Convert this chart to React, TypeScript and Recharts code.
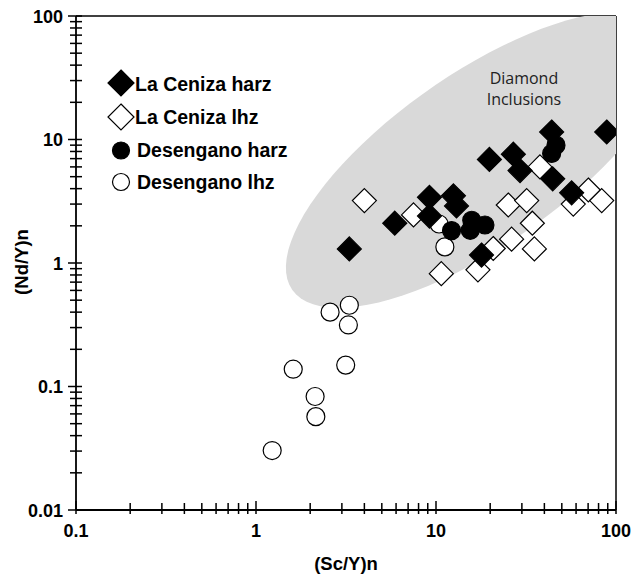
import React from "react";
import { ScatterChart, Scatter, XAxis, YAxis, Customized } from "recharts";

// [Sc/Y n, Nd/Y n]
const laCenizaHarz = [
  [3.3, 1.3], [5.9, 2.1], [9.2, 3.4], [9.2, 2.4], [12.5, 3.5], [13, 2.9],
  [19.8, 6.9], [26.9, 7.6], [29.3, 5.6], [43.9, 11.5], [44.5, 4.8],
  [56.7, 3.7], [88.8, 11.5], [17.9, 1.16]
];
const laCenizaLhz = [
  [4.0, 3.2], [7.5, 2.45], [10.7, 0.82], [17.1, 0.88], [20.8, 1.31],
  [25.2, 2.95], [31.9, 3.2], [34.3, 2.1], [26.3, 1.56], [35.2, 1.3],
  [37.8, 6.0], [57.9, 3.0], [70.2, 3.9], [83.3, 3.2]
];
const desenganoHarz = [
  [12.2, 1.83], [15.8, 2.22], [15.5, 1.84], [18.7, 2.03], [46.4, 9.0], [43.9, 7.7]
];
const desenganoLhz = [
  [2.58, 0.4], [3.3, 0.455], [3.26, 0.315], [1.61, 0.138], [3.15, 0.149],
  [2.13, 0.083], [2.15, 0.057], [1.23, 0.0303], [11.2, 1.35], [10.4, 2.07]
];

const xTicks = [
  0.1, 0.2, 0.3, 0.4, 0.5, 0.6, 0.7, 0.8, 0.9,
  1, 2, 3, 4, 5, 6, 7, 8, 9,
  10, 20, 30, 40, 50, 60, 70, 80, 90, 100
];
const xMajor = [0.1, 1, 10, 100];
const yTicks = [
  0.01, 0.02, 0.03, 0.04, 0.05, 0.06, 0.07, 0.08, 0.09,
  0.1, 0.2, 0.3, 0.4, 0.5, 0.6, 0.7, 0.8, 0.9,
  1, 2, 3, 4, 5, 6, 7, 8, 9,
  10, 20, 30, 40, 50, 60, 70, 80, 90, 100
];
const yMajor = [0.01, 0.1, 1, 10, 100];

const legendLabels = ["La Ceniza harz", "La Ceniza lhz", "Desengano harz", "Desengano lhz"];
const fieldLabel = ["Diamond", "Inclusions"];
const fieldLabelAt = [{ x: 30.8, y: 28 }];

// diamond inclusion field: ellipse in log-log space (axes in decades)
const fieldCenter = [17.17, 6.83];
const fieldMajor = [1.033, 1.053];
const fieldMinor = [0.274, -0.57];

const FONT = "'Liberation Sans', Arial, Helvetica, sans-serif";

const toPoints = (rows: number[][]) => rows.map(([x, y]) => ({ x, y }));

const fieldOutline = (() => {
  const pts: { x: number; y: number }[] = [];
  const u0 = Math.log10(fieldCenter[0]);
  const v0 = Math.log10(fieldCenter[1]);
  for (let i = 0; i <= 90; i++) {
    const t = (i / 90) * Math.PI * 2;
    const u = u0 + Math.cos(t) * fieldMajor[0] + Math.sin(t) * fieldMinor[0];
    const v = v0 + Math.cos(t) * fieldMajor[1] + Math.sin(t) * fieldMinor[1];
    pts.push({ x: Math.pow(10, u), y: Math.pow(10, v) });
  }
  return pts;
})();

const Diamond = ({ cx, cy, fill }: any) => (
  <polygon
    points={`${cx},${cy - 12} ${cx + 12},${cy} ${cx},${cy + 12} ${cx - 12},${cy}`}
    fill={fill}
    stroke="#000"
    strokeWidth={1.2}
  />
);

const Dot = ({ cx, cy, fill }: any) => (
  <circle cx={cx} cy={cy} r={9} fill={fill} stroke="#000" strokeWidth={1.2} />
);

const FieldLabel = ({ cx, cy }: any) => (
  <g>
    {fieldLabel.map((t, i) => (
      <text
        key={t}
        x={cx}
        y={cy + i * 21}
        textAnchor="middle"
        fontFamily="'Open Sans', sans-serif"
        fontSize={16}
        fill="#222"
      >
        {t}
      </text>
    ))}
  </g>
);

const XTick = (props: any) => {
  const { x, y, payload } = props;
  const major = xMajor.includes(payload.value);
  return (
    <g>
      <line x1={x} x2={x} y1={y - (major ? 9 : 7)} y2={y + 4} stroke="#000" strokeWidth={1.5} />
      {major && (
        <text x={x} y={y + 27} textAnchor="middle" fontFamily={FONT} fontWeight="bold" fontSize={18} fill="#000">
          {String(payload.value)}
        </text>
      )}
    </g>
  );
};

const YTick = (props: any) => {
  const { x, y, payload } = props;
  const major = yMajor.includes(payload.value);
  return (
    <g>
      <line x1={x - (major ? 8 : 6)} x2={x + 6} y1={y} y2={y} stroke="#000" strokeWidth={1.5} />
      {major && (
        <text x={x - 13} y={y + 6.5} textAnchor="end" fontFamily={FONT} fontWeight="bold" fontSize={18} fill="#000">
          {String(payload.value)}
        </text>
      )}
    </g>
  );
};

const Overlay = () => {
  const rows = [
    { y: 90.7, cy: 83, shape: "diamond", fill: "#000" },
    { y: 124, cy: 117, shape: "diamond", fill: "#fff" },
    { y: 157.3, cy: 150.5, shape: "circle", fill: "#000" },
    { y: 188.5, cy: 182, shape: "circle", fill: "#fff" }
  ];
  return (
    <g>
      {rows.map((r, i) => (
        <g key={i}>
          {r.shape === "diamond" ? (
            <polygon
              points={`121,${r.cy - 13} 134,${r.cy} 121,${r.cy + 13} 108,${r.cy}`}
              fill={r.fill}
              stroke="#000"
              strokeWidth={1.2}
            />
          ) : (
            <circle cx={121} cy={r.cy} r={8.5} fill={r.fill} stroke="#000" strokeWidth={1.2} />
          )}
          <text x={r.shape === "diamond" ? 135 : 137} y={r.y} fontFamily={FONT} fontWeight="bold" fontSize={19.5} fill="#000">
            {legendLabels[i]}
          </text>
        </g>
      ))}
      <text x={346} y={570} textAnchor="middle" fontFamily={FONT} fontWeight="bold" fontSize={18.5} fill="#000">
        (Sc/Y)n
      </text>
      <text
        x={28}
        y={262}
        transform="rotate(-90 28 262)"
        textAnchor="middle"
        fontFamily={FONT}
        fontWeight="bold"
        fontSize={18.5}
        fill="#000"
      >
        (Nd/Y)n
      </text>
    </g>
  );
};

export default function App() {
  return (
    <div style={{ position: "absolute", left: 0, top: 0, background: "#fff" }}>
      <ScatterChart width={638} height={581} margin={{ top: 15, right: 21, bottom: 70, left: 75 }}>
        <XAxis
          dataKey="x"
          type="number"
          scale="log"
          domain={[0.1, 100]}
          allowDataOverflow
          ticks={xTicks}
          interval={0}
          tick={<XTick />}
          tickLine={false}
          tickSize={0}
          tickMargin={0}
          height={1}
          axisLine={{ stroke: "#000", strokeWidth: 1.8 }}
        />
        <XAxis
          xAxisId="top"
          orientation="top"
          dataKey="x"
          type="number"
          scale="log"
          domain={[0.1, 100]}
          allowDataOverflow
          tick={false}
          tickLine={false}
          height={1}
          axisLine={{ stroke: "#000", strokeWidth: 1.5 }}
        />
        <YAxis
          dataKey="y"
          type="number"
          scale="log"
          domain={[0.01, 100]}
          allowDataOverflow
          ticks={yTicks}
          interval={0}
          tick={<YTick />}
          tickLine={false}
          tickSize={0}
          tickMargin={0}
          width={1}
          axisLine={{ stroke: "#000", strokeWidth: 1.8 }}
        />
        <YAxis
          yAxisId="right"
          orientation="right"
          dataKey="y"
          type="number"
          scale="log"
          domain={[0.01, 100]}
          allowDataOverflow
          tick={false}
          tickLine={false}
          width={1}
          axisLine={{ stroke: "#000", strokeWidth: 1.5 }}
        />
        <Scatter
          data={fieldOutline}
          fill="#d9d9d9"
          shape={() => <g />}
          line={{ fill: "#d9d9d9", stroke: "none" }}
          isAnimationActive={false}
        />
        <Scatter data={fieldLabelAt} fill="#222" shape={<FieldLabel />} isAnimationActive={false} />
        <Scatter data={toPoints(desenganoLhz)} fill="#fff" shape={<Dot />} isAnimationActive={false} />
        <Scatter data={toPoints(laCenizaLhz)} fill="#fff" shape={<Diamond />} isAnimationActive={false} />
        <Scatter data={toPoints(desenganoHarz)} fill="#000" shape={<Dot />} isAnimationActive={false} />
        <Scatter data={toPoints(laCenizaHarz)} fill="#000" shape={<Diamond />} isAnimationActive={false} />
        <Customized component={<Overlay />} />
      </ScatterChart>
    </div>
  );
}
